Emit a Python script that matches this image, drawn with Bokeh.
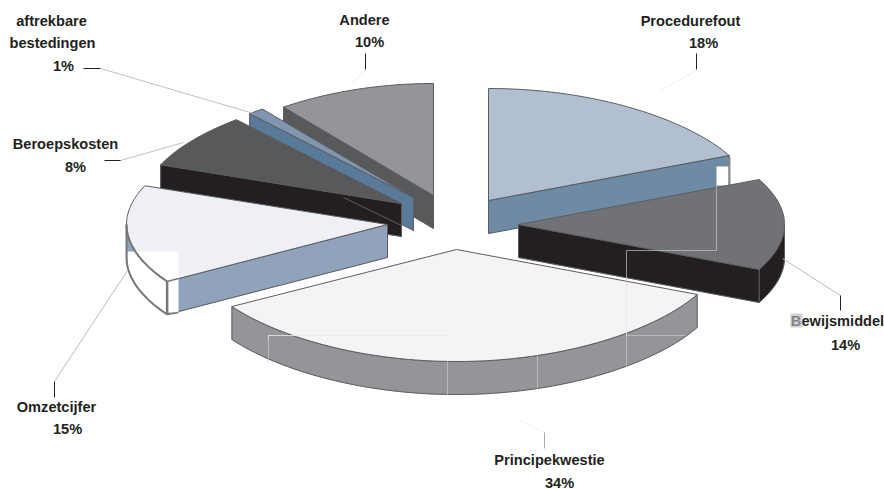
import numpy as np
from bokeh.embed import file_html
from bokeh.models import Range1d
from bokeh.plotting import figure
from bokeh.resources import INLINE
from bokeh.core.properties import value

# Share of each category, clockwise from twelve o'clock
categories = ["Procedurefout", "Bewijsmiddel", "Principekwestie", "Omzetcijfer",
              "Beroepskosten", "aftrekbare bestedingen", "Andere"]
shares = [18, 14, 34, 15, 8, 1, 10]

# Colours of the upper faces and of the cut faces
top_colors = ["#b1bfd0", "#717275", "#f4f4f4", "#eef0f5", "#58595b", "#7f95b0", "#939598"]
side_colors = ["#6e8aa5", "#231f20", "#939598", "#8fa3ba", "#231f20", "#5a7a9a", "#58595b"]

# Where each exploded slice has its tip on the page, and its horizontal radius
tip_x = [488, 518, 456, 387, 401, 413, 433]
tip_y = [200, 224, 249, 224, 203, 197, 195]
radius_x = [266, 266, 266, 261, 259, 257, 255]

# Back-to-front drawing sequence
paint_order = [6, 5, 4, 3, 0, 1, 2]

RY, DEPTH = 112, 33
EDGE = "#5c5d60"

p = figure(width=884, height=489, output_backend="svg", toolbar_location=None,
           x_range=Range1d(0, 884), y_range=Range1d(489, 0),
           min_border=0, outline_line_color=None, background_fill_color="white")
p.axis.visible = False
p.grid.visible = False

cum = np.cumsum([0] + shares) * 3.6


def rim_at(i, deg):
    a = np.radians(deg)
    x = tip_x[i] + radius_x[i] * np.sin(a)
    # Slight foreshortening towards the sides of the tilted disc
    y = tip_y[i] - RY * np.cos(a) * (1 - 0.07 * np.sin(a) ** 2)
    return x, y


def rim_points(i):
    return rim_at(i, np.linspace(cum[i], cum[i + 1], max(int(shares[i] * 3), 4)))


def draw_strip(xs, ys, color):
    """Extrude a screen-space polyline downwards into a cut face."""
    if len(xs) < 2:
        return
    px = np.concatenate([xs, xs[::-1]])
    py = np.concatenate([ys, ys[::-1] + DEPTH])
    p.patch(px, py, fill_color=color, line_color=color, line_width=0.5)
    p.line(np.append(px, px[0]), np.append(py, py[0]), line_color=EDGE, line_width=1)


def visible_runs(xs, ys):
    """Stretches of a polyline that travel right-to-left, so they face the viewer."""
    runs, start = [], None
    for k in range(len(xs) - 1):
        facing = xs[k + 1] - xs[k] < -1e-6
        if facing and start is None:
            start = k
        if not facing and start is not None:
            runs.append((start, k + 1))
            start = None
    if start is not None:
        runs.append((start, len(xs)))
    return runs


def draw_slice(i):
    rx_, ry_ = rim_points(i)
    ax, ay = float(tip_x[i]), float(tip_y[i])
    for xs, ys in (
        (np.array([ax, rx_[0]]), np.array([ay, ry_[0]])),
        (rx_, ry_),
        (np.array([rx_[-1], ax]), np.array([ry_[-1], ay])),
    ):
        for a, b in visible_runs(xs, ys):
            draw_strip(xs[a:b], ys[a:b], side_colors[i])
    p.patch(np.concatenate([[ax], rx_]), np.concatenate([[ay], ry_]),
            fill_color=top_colors[i], line_color=EDGE, line_width=1)


def white_tile(x0, y0, x1, y1):
    p.quad(left=x0, right=x1, top=y0, bottom=y1, fill_color="white", line_color=None)


for i in paint_order:
    draw_slice(i)
    if i == 0:
        white_tile(716, 166, 728, 185)
        p.line([729, 729], [157, 190], line_color="#8a8b8e", line_width=2)
    if i == 3:
        # Pale tile across the rounded end of the slice, with its contours redrawn
        white_tile(127, 251, 178, 312)
        cx, cy = rim_at(3, np.linspace(cum[3], 270, 12))
        p.line(cx, cy, line_color="#77787b", line_width=2)
        p.line(cx, cy + DEPTH, line_color="#77787b", line_width=2)
        p.line([cx[0], cx[0]], [cy[0], cy[0] + DEPTH], line_color="#77787b", line_width=2.5)
        p.line([cx[-1], cx[-1]], [cy[-1], cy[-1] + DEPTH], line_color="#77787b", line_width=2)
        p.line([cx[0], 178], [cy[0], cy[0] - 3], line_color="#77787b", line_width=1.5)
        p.line([cx[0], 178], [cy[0] + DEPTH, cy[0] + DEPTH - 2], line_color="#77787b", line_width=1.5)
    if i == 4:
        p.line([343, 401], [197, 225], line_color=EDGE, line_width=1)

# Thin seams running through the lower slices
p.multi_line(
    [[716, 716, 626, 626], [626, 626], [626, 685], [447, 447], [537, 537], [268, 268]],
    [[185, 250, 250, 286], [335, 367], [335, 335], [360, 395], [355, 388], [340, 362]],
    line_color="#c8c9cb", line_width=0.8, line_alpha=0.85)
p.multi_line(
    [[626, 626], [268, 447], [268, 268]],
    [[286, 335], [335, 335], [335, 340]],
    line_color="#ebebec", line_width=0.8)

# Leader lines: pale run from the slice, then a short black tick at the label
p.multi_line(
    [[100, 253], [120, 183], [54, 127], [782, 840], [696, 660], [365, 350], [544, 520]],
    [[68, 113], [160, 142], [381, 270], [258, 295], [70, 90], [69, 85], [432, 420]],
    line_color=["#c2c3c5", "#c2c3c5", "#bbbcbe", "#bbbcbe", "#eeeeee", "#eeeeee", "#eeeeee"],
    line_width=1)
p.multi_line(
    [[83, 100], [104, 120], [54, 54], [840, 840], [696, 696], [365, 365]],
    [[68, 68], [160, 160], [381, 397], [295, 310], [53, 69], [53, 69]],
    line_color="#231f20", line_width=1)
p.line([544, 544], [432, 448], line_color="#a7a9ac", line_width=1)

# Slice names and percentages
label_lines = [["Procedurefout"], ["Bewijsmiddel"], ["Principekwestie"], ["Omzetcijfer"],
               ["Beroepskosten"], ["aftrekbare", "bestedingen"], ["Andere"]]
name_x = [[690], [837], [549], [56], [65], [51, 52], [364]]
name_y = [[20], [320], [459], [406], [143], [20, 42], [19]]
pct_x = [703, 845, 559, 67, 75, 63, 369]
pct_y = [42, 344, 482, 428, 166, 65, 41]

tx, ty, tt = [], [], []
for i in range(len(categories)):
    tx += name_x[i] + [pct_x[i]]
    ty += name_y[i] + [pct_y[i]]
    tt += label_lines[i] + [f"{shares[i]}%"]
p.text(tx, ty, text=tt, text_font=value("Liberation Sans"), text_font_style="bold",
       text_font_size="14.6px", text_color="#231f20", text_align="center", text_baseline="middle")

# Washed-out patch over the first letter of one label
p.quad(left=790, right=802, top=313, bottom=327, fill_color="#b9babc", fill_alpha=0.65, line_color=None)

open("out.html", "w").write(file_html(p, INLINE))
